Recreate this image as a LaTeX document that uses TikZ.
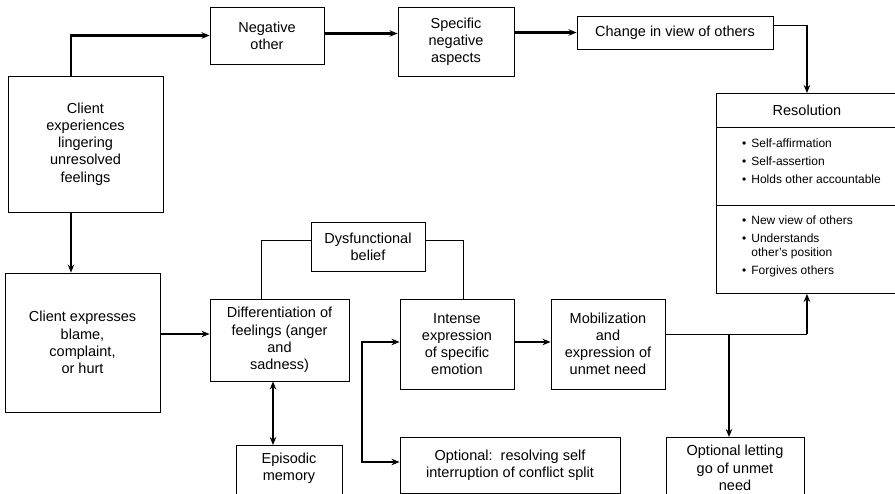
\documentclass[tikz,border=0pt]{standalone}
\usepackage{fontspec}
\setmainfont{Liberation Sans}
\usetikzlibrary{arrows.meta,positioning}

\newcommand{\itm}{\textbullet\hspace{5pt}}

\begin{document}
\begin{tikzpicture}[x=1pt, y=-1pt,
    every node/.style={font=\fontsize{14.5}{17.2}\selectfont},
    box/.style={draw, line width=0.9pt, align=center, inner sep=0pt},
    list/.style={font=\fontsize{12}{13.5}\selectfont, align=left, inner sep=0pt},
    link/.style={line width=0.9pt},
    arr/.style={line width=2.1pt, -{Stealth[length=8pt,width=6.5pt]}},
    dbl/.style={line width=2.1pt, {Stealth[length=8pt,width=6.5pt]}-{Stealth[length=8pt,width=6.5pt]}}]
  \useasboundingbox (0,0) rectangle (895,494);

  % top row
  \node[box, minimum width=155, minimum height=136] (client) at (85.5,144)
    {Client\\experiences\\lingering\\unresolved\\feelings};
  \node[box, minimum width=114, minimum height=57] (negother) at (267,35.5) {Negative\\other};
  \node[box, minimum width=116, minimum height=69] (specneg) at (456,41.5) {Specific\\negative\\aspects};
  \node[box, minimum width=196, minimum height=33] (change) at (675,32.5) {Change in view of others};

  % resolution panel
  \node[box, minimum width=181, minimum height=200, anchor=north west] (res) at (716,93) {};
  \node (restitle) at ([yshift=-17]res.north) {Resolution};
  \draw[link] ([yshift=-34]res.north west) -- ++(181,0);
  \draw[link] ([yshift=-112]res.north west) -- ++(181,0);
  \node[list, anchor=north west] (gains) at (742,139)
    {\itm Self-affirmation\\[4.5pt]\itm Self-assertion\\[4.5pt]\itm Holds other accountable};
  \node[list, anchor=north west] (views) at (742,216)
    {\itm New view of others\\[4.5pt]\itm Understands\\\phantom{\itm}other's position\\[4.5pt]\itm Forgives others};

  % bottom row
  \node[box, minimum width=155, minimum height=139] (expresses) at (82.5,342.5)
    {Client expresses\\blame,\\complaint,\\or hurt};
  \node[box, minimum width=139, minimum height=82] (diff) at (279.5,340)
    {Differentiation of\\feelings (anger\\and\\sadness)};
  \node[box, minimum width=114, minimum height=49] (dysf) at (368,246.5) {Dysfunctional\\belief};
  \node[box, minimum width=114, minimum height=90] (intense) at (457,344)
    {Intense\\expression\\of specific\\emotion};
  \node[box, minimum width=114, minimum height=90] (mobil) at (608,344)
    {Mobilization\\and\\expression of\\unmet need};
  \node[box, minimum width=220, minimum height=56] (optres) at (510,465)
    {Optional:\ \ resolving self\\interruption of conflict split};
  \node[box, minimum width=106, anchor=north, inner ysep=7.5pt, text depth=40pt] (episodic) at (289,445)
    {Episodic\\memory};
  \node[box, minimum width=138, anchor=north, inner ysep=8pt, text depth=40pt] (optlet) at (735,437)
    {Optional letting\\go of unmet\\need};

  % connectors
  \draw[arr] ([xshift=-14.5]client.north) |- (negother.west);
  \draw[arr] ([yshift=2]negother.east) -- ([yshift=2]negother.east -| specneg.west);
  \draw[arr] (change.west -| specneg.east) -- (change.west);
  \draw[link] ([yshift=7]change.east) -- ([yshift=7]change.east -| res.north) coordinate (drop);
  \draw[arr] (drop) -- (res.north);
  \draw[arr] ([xshift=-14.5]client.south) -- ([xshift=-11.5]expresses.north);
  \draw[arr] ([yshift=6]diff.west -| expresses.east) -- ([yshift=6]diff.west);
  \draw[dbl] ([xshift=-6.5]diff.south) -- ([xshift=-16]episodic.north);
  \draw[link] ([xshift=-18.5]diff.north) |- ([yshift=6.5]dysf.west);
  \draw[link] ([yshift=6.5]dysf.east) -| ([xshift=6]intense.north);
  \coordinate (fork) at (362,342);
  \draw[dbl] (fork -| intense.west) -- (fork) |- ([yshift=3]optres.west);
  \draw[arr] ([yshift=2]intense.east) -- ([yshift=2]mobil.west);
  \draw[link] ([yshift=10]mobil.east) -- ([yshift=10]mobil.east -| res.south) coordinate (turn);
  \draw[arr] (turn) -- (res.south);
  \draw[arr] ([xshift=-6]optlet.north |- turn) -- ([xshift=-6]optlet.north);
\end{tikzpicture}
\end{document}
